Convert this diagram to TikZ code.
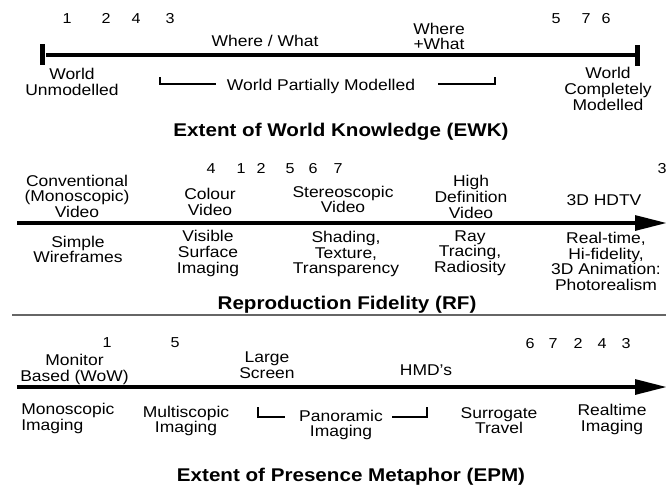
\documentclass[tikz,border=0pt]{standalone}
\usepackage{fontspec}
\setmainfont[FakeStretch=1.12]{Liberation Sans}
\usetikzlibrary{arrows.meta}
\begin{document}
\begin{tikzpicture}[x=0.75pt,y=-0.75pt,
  lbl/.style={font=\fontsize{11.7}{11.8}\selectfont, align=center, inner sep=0pt},
  num/.style={font=\fontsize{10.8}{12}\selectfont, inner sep=0pt, text height=7.8pt, text depth=0pt},
  ttl/.style={font=\fontsize{13.8}{15}\selectfont\bfseries, inner sep=0pt},
  axis/.style={line width=3pt},
  arrowaxis/.style={line width=3pt, -{Triangle[length=24pt,width=11pt]}},
  brk/.style={line width=0.8pt},
  endtick/.style={line width=3.75pt},
  sep/.style={draw=black!60, line width=1.5pt}]
\useasboundingbox (0,0) rectangle (666,486);
\clip (0,0) rectangle (666,486);

% ---------- Extent of World Knowledge ----------
\foreach \n/\x in {1/67, 2/106, 4/136, 3/170, 5/556, 7/586, 6/606}
  \node[num] (ewk\n) at (\x,18) {\n};
\coordinate (ewkL) at (46,55);
\coordinate (ewkR) at (635,55);
\draw[axis] (ewkL) -- (ewkR);
\draw[endtick] (42.5,44) -- (42.5,65);
\draw[endtick] (637.5,45) -- (637.5,66);
\node[lbl] (wherewhat) at (265,41) {Where / What};
\node[lbl] (whereplus) at (439,36.5) {Where\\+What};
\node[lbl] (unmod) at (72,82) {World\\Unmodelled};
\node[lbl] (partial) at (321,86) {World Partially Modelled};
\node[lbl] (complete) at (608,89) {World\\Completely\\Modelled};
\coordinate (pbl) at (160,77);
\coordinate (pbr) at (495,77);
\draw[brk] (pbl) |- ([xshift=-8pt]partial.west |- 0,84);
\draw[brk] (pbr) |- ([xshift=17pt]partial.east |- 0,84);
\node[ttl] (ewktitle) at (341,132) {Extent of World Knowledge (EWK)};

% ---------- Reproduction Fidelity ----------
\foreach \n/\x in {4/211, 1/241, 2/261, 5/290, 6/313, 7/338, 3/662}
  \node[num] (rf\n) at (\x,168) {\n};
\coordinate (rfL) at (17,223);
\coordinate (rfR) at (667,223);
\draw[arrowaxis] (rfL) -- (rfR);
\node[lbl] (conv) at (77,196.3) {Conventional\\(Monoscopic)\\Video};
\node[lbl] (colour) at (210,202) {Colour\\Video};
\node[lbl] (stereo) at (343,199.5) {Stereoscopic\\Video};
\node[lbl] (hdv) at (471,196.7) {High\\Definition\\Video};
\node[lbl] (hdtv) at (604,200) {3D HDTV};
\node[lbl] (wire) at (78,249.5) {Simple\\Wireframes};
\node[lbl] (visible) at (208,253.5) {Visible\\Surface\\Imaging};
\node[lbl] (shading) at (346,254) {Shading,\\Texture,\\Transparency};
\node[lbl] (ray) at (470,253) {Ray\\Tracing,\\Radiosity};
\node[lbl] (realtime) at (606,261.5) {Real-time,\\Hi-fidelity,\\3D Animation:\\Photorealism};
\node[ttl] (rftitle) at (347,305) {Reproduction Fidelity (RF)};
\coordinate (sepL) at (12,315);
\coordinate (sepR) at (667,315);
\draw[sep] (sepL) -- (sepR);

% ---------- Extent of Presence Metaphor ----------
\foreach \n/\x/\y in {1/107/342, 5/175/342, 6/530/343, 7/553/343, 2/578/343, 4/602/343, 3/626/343}
  \node[num] (epm\n) at (\x,\y) {\n};
\coordinate (epmL) at (17,387);
\coordinate (epmR) at (667,387);
\draw[arrowaxis] (epmL) -- (epmR);
\node[lbl] (monitor) at (74.5,369.5) {Monitor\\Based (WoW)};
\node[lbl] (large) at (267,365.5) {Large\\Screen};
\node[lbl] (hmd) at (426,370) {HMD's};
\node[lbl, align=left, anchor=west] (mono) at (21,418.5) {Monoscopic\\Imaging};
\node[lbl] (multi) at (186,421) {Multiscopic\\Imaging};
\node[lbl] (pano) at (341,425) {Panoramic\\Imaging};
\coordinate (qbl) at (258,407);
\coordinate (qbr) at (427,407);
\draw[brk] (qbl) |- (285,417);
\draw[brk] (qbr) |- (392,417);
\node[lbl] (surrogate) at (499,420.5) {Surrogate\\Travel};
\node[lbl] (rtimg) at (612,419.5) {Realtime\\Imaging};
\node[ttl] (epmtitle) at (351,477) {Extent of Presence Metaphor (EPM)};
\end{tikzpicture}
\end{document}
